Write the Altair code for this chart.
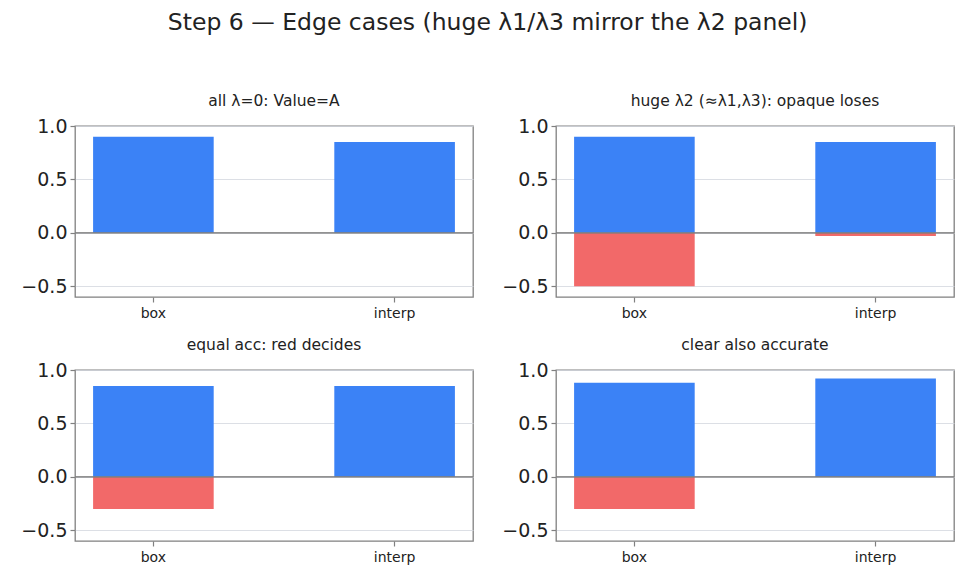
import altair as alt
import pandas as pd

suptitle = "Step 6 — Edge cases (huge λ1/λ3 mirror the λ2 panel)"
panel_titles = [
    "all λ=0: Value=A",
    "huge λ2 (≈λ1,λ3): opaque loses",
    "equal acc: red decides",
    "clear also accurate",
]
methods = ["box", "interp"]
blue_vals = [[0.90, 0.85], [0.90, 0.85], [0.85, 0.85], [0.88, 0.92]]
red_vals = [[0.0, 0.0], [-0.50, -0.03], [-0.30, 0.0], [-0.30, 0.0]]
y_ticks = [-0.5, 0.0, 0.5, 1.0]

rows = []
for i, t in enumerate(panel_titles):
    for j, m in enumerate(methods):
        rows.append({"panel": i, "method": m, "blue": blue_vals[i][j], "red": red_vals[i][j]})
df = pd.DataFrame(rows)

FONT = "DejaVu Sans"
GRAY = "#808080"


def make_panel(i):
    d = df[df["panel"] == i]
    base = alt.Chart(d)
    x = alt.X(
        "method:N",
        sort=methods,
        scale=alt.Scale(paddingInner=0.5, paddingOuter=0.075),
        axis=alt.Axis(title=None, labelAngle=0, labelFontSize=14, tickSize=5,
                      tickColor=GRAY, tickWidth=1.2, labelPadding=4, grid=False, domain=False),
    )
    yscale = alt.Scale(domain=[-0.6, 1.0], nice=False, zero=False)
    yaxis = alt.Axis(title=None, values=y_ticks, format=".1f", labelFontSize=19,
                     tickSize=5, tickColor=GRAY, tickWidth=1.2, labelPadding=3,
                     grid=True, gridColor="#d3d7de", gridWidth=0.8, domain=False)
    blue = base.mark_bar(color="#3b82f6").encode(
        x=x, y=alt.Y("blue:Q", scale=yscale, axis=yaxis), y2=alt.datum(0)
    )
    red = base.mark_bar(color="#ef4444", opacity=0.8).encode(
        x=x, y=alt.Y("red:Q", scale=yscale), y2=alt.datum(0)
    )
    zero = base.mark_rule(color=GRAY, strokeWidth=1).encode(y=alt.datum(0))
    return alt.layer(blue, red, zero).properties(
        width=398,
        height=171,
        title=alt.TitleParams(panel_titles[i], fontSize=15.5, fontWeight="normal",
                              font=FONT, color="#222222", offset=8),
    )


panels = [make_panel(i) for i in range(4)]
chart = alt.vconcat(
    alt.hconcat(panels[0], panels[1], spacing=26),
    alt.hconcat(panels[2], panels[3], spacing=26),
    spacing=15,
).properties(
    title=alt.TitleParams(suptitle, fontSize=23.5, fontWeight="normal", font=FONT,
                          color="#222222", anchor="middle", offset=58),
    padding={"left": 20, "top": 11, "right": 10, "bottom": 6},
    background="white",
).configure_view(
    stroke=GRAY, strokeWidth=1.3
).configure_axis(
    labelFont=FONT, labelColor="#222222"
)

chart.save("out.html", embed_options={"renderer": "svg", "actions": False})
